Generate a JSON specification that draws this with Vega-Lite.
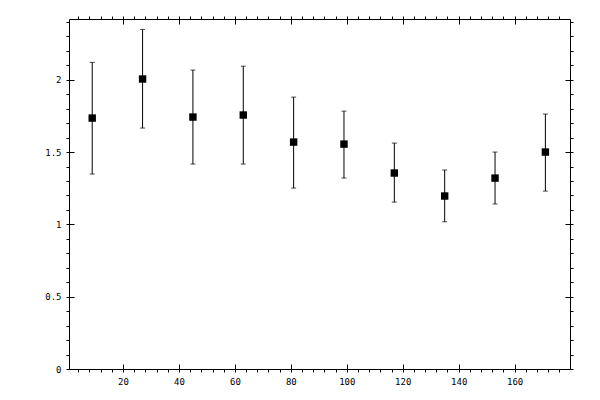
{
  "$schema": "https://vega.github.io/schema/vega-lite/v6.json",
  "width": 501,
  "height": 350,
  "autosize": {"type": "none"},
  "padding": {"left": 69, "top": 19, "right": 30, "bottom": 31},
  "background": "white",
  "data": {
    "values": [
      {"x": 9, "y": 1.735, "lo": 1.348, "hi": 2.12},
      {"x": 27, "y": 2.005, "lo": 1.666, "hi": 2.348},
      {"x": 45, "y": 1.742, "lo": 1.417, "hi": 2.067},
      {"x": 63, "y": 1.756, "lo": 1.417, "hi": 2.094},
      {"x": 81, "y": 1.569, "lo": 1.251, "hi": 1.88},
      {"x": 99, "y": 1.555, "lo": 1.32, "hi": 1.783},
      {"x": 117, "y": 1.355, "lo": 1.154, "hi": 1.562},
      {"x": 135, "y": 1.196, "lo": 1.018, "hi": 1.376},
      {"x": 153, "y": 1.32, "lo": 1.141, "hi": 1.5},
      {"x": 171, "y": 1.5, "lo": 1.23, "hi": 1.763}
    ]
  },
  "layer": [
    {
      "mark": {"type": "rule", "color": "black", "strokeWidth": 1},
      "encoding": {
        "x": {
          "field": "x", "type": "quantitative",
          "scale": {"domain": [0.7, 179.8], "nice": false, "zero": false},
          "axis": {
            "orient": "bottom",
            "values": [4, 8, 12, 16, 20, 24, 28, 32, 36, 40, 44, 48, 52, 56, 60, 64, 68, 72, 76, 80, 84, 88, 92, 96, 100, 104, 108, 112, 116, 120, 124, 128, 132, 136, 140, 144, 148, 152, 156, 160, 164, 168, 172, 176],
            "tickSize": 3,
            "labelExpr": "datum.value % 20 === 0 ? datum.value : ''",
            "labelPadding": 5
          }
        },
        "y": {
          "field": "lo", "type": "quantitative",
          "scale": {"domain": [0, 2.42], "nice": false, "zero": false},
          "axis": {
            "orient": "left",
            "values": [0, 0.1, 0.2, 0.3, 0.4, 0.5, 0.6, 0.7, 0.8, 0.9, 1, 1.1, 1.2, 1.3, 1.4, 1.5, 1.6, 1.7, 1.8, 1.9, 2, 2.1, 2.2, 2.3, 2.4],
            "tickSize": 3,
            "labelExpr": "abs(datum.value * 2 - round(datum.value * 2)) < 0.000001 ? format(datum.value, '~g') : ''",
            "labelPadding": 5
          }
        },
        "y2": {"field": "hi"}
      }
    },
    {
      "mark": {"type": "tick", "orient": "horizontal", "color": "black", "size": 5, "thickness": 1},
      "encoding": {
        "x": {
          "field": "x", "type": "quantitative",
          "scale": {"domain": [0.7, 179.8], "nice": false, "zero": false},
          "axis": {
            "orient": "top",
            "values": [4, 8, 12, 16, 20, 24, 28, 32, 36, 40, 44, 48, 52, 56, 60, 64, 68, 72, 76, 80, 84, 88, 92, 96, 100, 104, 108, 112, 116, 120, 124, 128, 132, 136, 140, 144, 148, 152, 156, 160, 164, 168, 172, 176],
            "tickSize": 3,
            "labels": false
          }
        },
        "y": {
          "field": "lo", "type": "quantitative",
          "scale": {"domain": [0, 2.42], "nice": false, "zero": false},
          "axis": {
            "orient": "right",
            "values": [0, 0.1, 0.2, 0.3, 0.4, 0.5, 0.6, 0.7, 0.8, 0.9, 1, 1.1, 1.2, 1.3, 1.4, 1.5, 1.6, 1.7, 1.8, 1.9, 2, 2.1, 2.2, 2.3, 2.4],
            "tickSize": 3,
            "labels": false
          }
        }
      }
    },
    {
      "mark": {"type": "tick", "orient": "horizontal", "color": "black", "size": 5, "thickness": 1},
      "encoding": {
        "x": {
          "field": "x", "type": "quantitative",
          "scale": {"domain": [0.7, 179.8], "nice": false, "zero": false},
          "axis": {
            "orient": "bottom",
            "values": [20, 40, 60, 80, 100, 120, 140, 160],
            "tickSize": -5,
            "labels": false,
            "domain": false
          }
        },
        "y": {
          "field": "hi", "type": "quantitative",
          "scale": {"domain": [0, 2.42], "nice": false, "zero": false},
          "axis": {
            "orient": "left",
            "values": [0, 0.5, 1, 1.5, 2],
            "tickSize": -5,
            "labels": false,
            "domain": false
          }
        }
      }
    },
    {
      "mark": {"type": "square", "color": "black", "opacity": 1, "size": 55},
      "encoding": {
        "x": {
          "field": "x", "type": "quantitative",
          "scale": {"domain": [0.7, 179.8], "nice": false, "zero": false},
          "axis": {
            "orient": "top",
            "values": [20, 40, 60, 80, 100, 120, 140, 160],
            "tickSize": -5,
            "labels": false,
            "domain": false
          }
        },
        "y": {
          "field": "y", "type": "quantitative",
          "scale": {"domain": [0, 2.42], "nice": false, "zero": false},
          "axis": {
            "orient": "right",
            "values": [0, 0.5, 1, 1.5, 2],
            "tickSize": -5,
            "labels": false,
            "domain": false
          }
        }
      }
    }
  ],
  "resolve": {
    "scale": {"x": "independent", "y": "independent"},
    "axis": {"x": "independent", "y": "independent"}
  },
  "config": {
    "view": {"stroke": null},
    "axis": {
      "title": null,
      "grid": false,
      "domainColor": "black",
      "domainWidth": 1,
      "tickColor": "black",
      "tickWidth": 1,
      "labelColor": "black",
      "labelFont": "DejaVu Sans Mono",
      "labelFontSize": 9
    }
  }
}
